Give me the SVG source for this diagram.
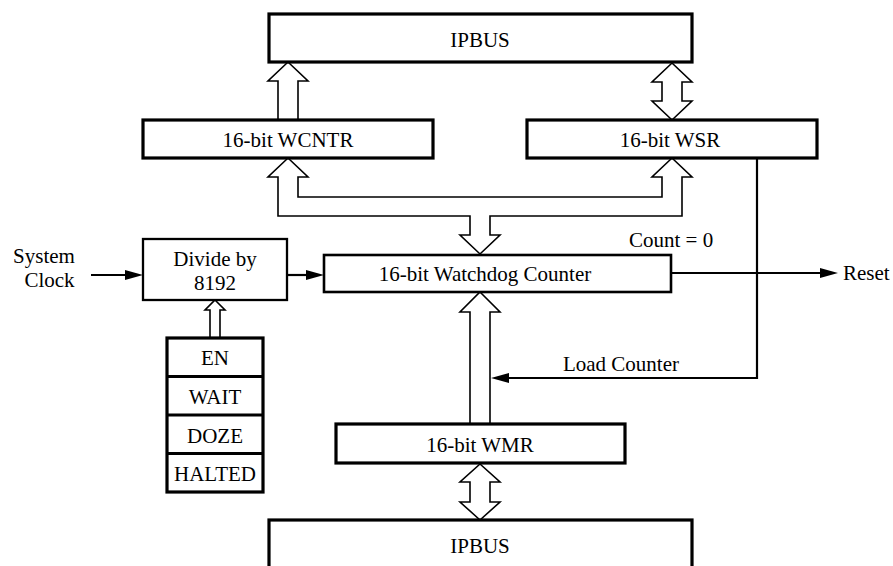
<svg xmlns="http://www.w3.org/2000/svg" width="893" height="566" viewBox="0 0 893 566">
<style>
  text { font-family: "Liberation Serif", "Times New Roman", serif; font-size: 21px; fill: #000; }
  .c { text-anchor: middle; }
  .box { fill: #fff; stroke: #000; stroke-width: 3.2; }
  .box2 { fill: #fff; stroke: #000; stroke-width: 2.6; }
  .bus { fill: #fff; stroke: #000; stroke-width: 1.6; stroke-linejoin: miter; }
  .wire { fill: none; stroke: #000; stroke-width: 2.2; }
</style>
<defs>
  <marker id="ah" viewBox="0 0 18 10" refX="0" refY="5" markerWidth="18" markerHeight="10" markerUnits="userSpaceOnUse" orient="auto">
    <path d="M0,0 L18,5 L0,10 Z" fill="#000"/>
  </marker>
</defs>
<rect width="893" height="566" fill="#fff"/>

<g id="connectors">
  <polygon class="bus" points="278,120 278,81 268,81 288,62 308,81 298,81 298,120"/>
  <polygon class="bus" points="672,63 692,82 682,82 682,101 692,101 672,120 652,101 662,101 662,82 652,82"/>
  <polygon class="bus" points="288,158 308,177 298,177 298,197 662,197 662,177 652,177 672,158 692,177 682,177 682,216 490,216 490,235 500,235 480,254 460,235 470,235 470,216 278,216 278,177 268,177"/>
  <polygon class="bus" points="480,292 500,312 490,312 490,424 470,424 470,312 460,312"/>
  <polygon class="bus" points="480,464 500,482 490,482 490,502 500,502 480,520 460,502 470,502 470,482 460,482"/>
  <polygon class="bus" points="215,300 225,310 220,310 220,338 210,338 210,310 205,310"/>
  <path class="wire" d="M91,275 H125" marker-end="url(#ah)"/>
  <path class="wire" d="M288,275 H306" marker-end="url(#ah)"/>
  <path class="wire" d="M671,273 H820" marker-end="url(#ah)"/>
  <path class="wire" d="M757,158 V378 H509" marker-end="url(#ah)"/>
  <text x="629" y="247">Count = 0</text>
  <text x="843" y="280">Reset</text>
  <text x="621" y="371" class="c">Load Counter</text>
  <text x="44" y="263" class="c">System</text>
  <text x="49.5" y="287" class="c">Clock</text>
</g>

<g id="ipbus-top">
  <rect class="box" x="269" y="14" width="423" height="48"/>
  <text x="480" y="46.5" class="c">IPBUS</text>
</g>
<g id="wcntr">
  <rect class="box" x="143" y="120" width="290" height="38"/>
  <text x="288" y="147" class="c">16-bit WCNTR</text>
</g>
<g id="wsr">
  <rect class="box" x="527" y="120" width="290" height="38"/>
  <text x="670" y="147" class="c">16-bit WSR</text>
</g>
<g id="divide">
  <rect x="143" y="239" width="144" height="61" fill="#fff" stroke="#000" stroke-width="2.3"/>
  <text x="215" y="266" class="c">Divide by</text>
  <text x="215" y="290" class="c">8192</text>
</g>
<g id="watchdog">
  <rect class="box2" x="324" y="255" width="347" height="37"/>
  <text x="485" y="281" class="c">16-bit Watchdog Counter</text>
</g>
<g id="control-bits">
  <rect class="box" x="167" y="338" width="96" height="154"/>
  <line x1="167" y1="376.5" x2="263" y2="376.5" stroke="#000" stroke-width="3.2"/>
  <line x1="167" y1="415" x2="263" y2="415" stroke="#000" stroke-width="3.2"/>
  <line x1="167" y1="453.5" x2="263" y2="453.5" stroke="#000" stroke-width="3.2"/>
  <text x="215" y="365" class="c">EN</text>
  <text x="215" y="404" class="c">WAIT</text>
  <text x="215" y="443" class="c">DOZE</text>
  <text x="215" y="481" class="c">HALTED</text>
</g>
<g id="wmr">
  <rect class="box" x="336" y="424" width="289" height="39"/>
  <text x="480" y="452" class="c">16-bit WMR</text>
</g>
<g id="ipbus-bottom">
  <rect class="box" x="269" y="520" width="423" height="60"/>
  <text x="480" y="553" class="c">IPBUS</text>
</g>
</svg>
